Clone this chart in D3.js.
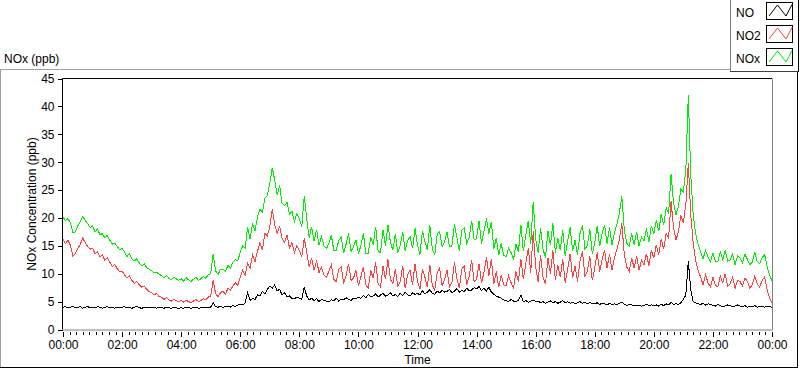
<!DOCTYPE html>
<html lang="en">
<head>
  <meta charset="UTF-8">
  <title>NOx (ppb)</title>
  <script src="https://d3js.org/d3.v7.min.js"></script>
  <style>
    body { margin: 0; background: #ffffff; }
    svg { display: block; font-family: "Segoe UI", "Liberation Sans", sans-serif; font-size: 12px; }
  </style>
</head>
<body>
  <script>
    // 5-minute readings, 00:00 .. 24:00 (one row per hour)
    const seriesNames = ["NO", "NO2", "NOx"];
    const seriesColors = ["#000000", "#ff4040", "#00ee00"];

    const no = [
      4.0,4.1,3.9,4.0,4.2,3.9,4.0,4.1,3.8,4.0,4.1,3.9,
      4.0,3.9,4.1,4.0,3.8,4.0,4.1,3.9,4.0,3.8,4.0,3.9,
      4.0,4.1,3.9,4.0,3.8,4.0,4.1,3.9,3.8,4.0,3.9,4.0,
      3.9,4.0,3.8,4.0,3.9,3.8,4.0,3.9,3.8,4.0,3.9,3.8,
      3.9,3.8,4.0,3.9,3.8,3.9,4.0,3.8,3.9,4.0,3.9,4.0,
      4.0,4.8,4.1,4.0,4.2,3.9,4.2,4.1,4.0,4.3,4.1,4.4,
      4.5,4.4,4.8,6.6,5.2,5.6,5.4,6.2,6.0,6.8,6.4,7.2,
      7.8,7.4,8.0,6.9,7.2,6.2,6.6,5.8,6.0,5.6,5.5,5.8,
      5.6,5.4,7.6,6.0,5.3,5.6,5.2,5.5,5.0,5.4,5.2,5.1,
      5.0,5.3,5.2,5.6,5.1,5.4,5.3,5.7,5.4,5.2,5.6,5.5,
      5.8,5.6,6.1,5.7,6.3,5.9,6.0,6.4,5.8,6.2,6.5,6.0,
      6.2,6.6,6.0,6.3,5.9,6.5,6.1,6.7,6.2,6.0,6.6,6.3,
      6.5,6.2,6.9,6.4,6.7,7.1,6.5,6.3,6.9,6.6,7.0,6.7,
      6.8,7.2,6.6,6.9,7.3,6.7,7.0,6.8,7.4,6.9,7.1,7.5,
      7.3,7.7,7.0,7.4,6.9,7.6,6.7,6.3,6.0,5.8,5.6,5.3,
      5.2,5.0,5.4,5.1,4.9,5.3,6.2,5.0,5.2,4.9,5.1,5.3,
      5.0,5.1,4.8,5.0,4.7,4.9,5.1,4.8,5.0,4.7,4.9,5.2,
      4.8,5.0,4.7,4.9,4.6,4.8,5.0,4.7,4.9,4.6,4.8,4.7,
      4.6,4.8,4.5,4.7,4.6,4.4,4.7,4.5,4.6,4.4,4.7,4.9,
      4.5,4.3,4.5,4.4,4.2,4.3,4.4,4.2,4.3,4.5,4.3,4.4,
      4.3,4.4,4.2,4.5,4.3,4.6,4.4,4.9,4.5,4.6,4.5,4.8,
      5.4,6.2,12.2,7.2,5.0,4.8,4.6,4.5,4.7,4.4,4.6,4.5,
      4.3,4.2,4.5,4.3,4.1,4.2,4.4,4.3,4.1,4.2,4.4,4.2,
      4.1,4.3,4.0,4.2,4.1,4.3,4.0,4.2,4.1,4.0,4.2,4.1,
      4.0
    ];

    const no2 = [
      16.2,15.4,16.0,15.1,13.2,13.6,14.6,15.2,16.4,15.6,14.9,14.4,
      14.6,13.6,13.9,13.0,13.4,12.4,12.8,12.1,11.3,11.7,10.9,10.4,
      10.5,9.8,9.2,9.6,8.8,8.3,8.6,8.0,7.6,7.8,7.2,6.8,
      6.6,6.2,6.5,5.9,5.8,5.4,5.7,5.3,5.1,5.4,5.2,5.0,
      5.2,4.9,5.3,5.0,4.8,5.1,5.4,5.0,5.2,5.5,5.3,5.8,
      6.0,8.8,6.4,5.9,6.6,6.9,6.3,7.4,7.0,7.8,8.4,7.9,
      9.4,10.6,9.8,11.8,11.0,13.4,12.2,14.0,15.6,14.2,17.2,16.8,
      18.4,21.6,18.8,17.2,18.6,16.4,15.6,17.0,14.6,15.6,13.8,15.0,
      14.2,13.0,16.4,13.8,11.2,12.8,10.6,12.4,10.2,11.2,9.8,9.4,
      10.4,11.6,9.0,8.6,10.8,11.2,8.4,9.6,11.8,8.8,9.2,10.6,
      7.8,9.4,11.2,8.0,7.4,10.6,9.2,12.0,8.2,7.6,11.4,9.0,
      12.6,9.0,8.2,10.8,7.8,8.6,11.4,7.4,9.8,10.6,8.0,11.8,
      8.6,7.2,10.8,9.4,7.6,11.6,8.0,7.0,10.2,11.0,7.8,9.0,
      10.6,7.6,8.4,12.0,9.2,7.4,10.8,11.4,8.0,9.6,12.4,8.6,
      9.0,11.8,8.4,10.2,13.0,9.6,12.6,8.2,10.4,7.6,9.8,8.0,
      7.8,9.6,8.4,7.4,10.4,8.6,12.6,9.0,11.8,14.6,10.2,17.6,
      11.2,8.6,13.4,9.4,8.2,12.8,10.0,14.2,8.8,11.6,9.4,12.6,
      8.4,10.8,13.6,9.2,11.4,8.6,12.2,14.0,9.6,10.4,13.2,8.8,
      11.0,13.8,10.4,12.6,14.2,11.0,13.6,10.6,12.8,14.4,16.2,19.0,
      13.4,11.2,10.4,12.8,11.0,13.2,10.6,12.4,11.6,13.6,11.4,14.2,
      12.8,15.2,13.4,16.2,14.4,17.2,16.4,23.0,18.2,16.0,17.6,20.4,
      19.2,22.4,29.8,20.6,15.4,12.4,10.6,9.4,8.0,9.8,8.4,7.6,
      9.4,8.0,7.6,9.6,8.4,10.0,7.8,8.2,9.4,7.4,8.8,8.6,
      7.8,9.2,8.6,7.4,8.0,9.6,8.2,7.6,8.8,9.4,7.2,5.6,
      4.8
    ];

    const nox = [
      20.2,19.5,19.9,19.1,17.4,17.5,18.6,19.3,20.2,19.6,19.0,18.3,
      18.6,17.5,18.0,17.0,17.2,16.4,16.9,16.0,15.3,15.5,14.9,14.3,
      14.5,13.9,13.1,13.6,12.6,12.3,12.7,11.9,11.4,11.8,11.1,10.8,
      10.5,10.2,10.3,9.9,9.7,9.2,9.7,9.2,8.9,9.4,9.1,8.8,
      9.1,8.7,9.3,8.9,8.6,9.0,9.4,8.8,9.1,9.5,9.2,9.8,
      10.0,13.6,10.5,9.9,10.8,10.8,10.5,11.5,11.0,12.1,12.5,12.3,
      13.9,15.0,14.6,18.4,16.2,19.0,17.6,20.2,21.6,21.0,23.6,24.0,
      26.2,29.0,26.8,24.1,25.8,22.6,22.2,22.8,20.6,21.2,19.3,20.8,
      19.8,18.4,24.0,19.8,16.5,18.4,15.8,17.9,15.2,16.6,15.0,14.5,
      15.4,16.9,14.2,14.2,15.9,16.6,13.7,15.3,17.2,14.0,14.8,16.1,
      13.6,15.0,17.3,13.7,13.7,16.5,15.2,18.4,14.0,13.8,17.9,15.0,
      18.8,15.6,14.2,17.1,13.7,15.1,17.5,14.1,16.0,16.6,14.6,18.1,
      15.1,13.4,17.7,15.8,14.3,18.7,14.5,13.3,17.1,17.6,14.8,15.7,
      17.4,14.8,15.0,18.9,16.5,14.1,17.8,18.2,15.4,16.5,19.5,16.1,
      16.3,19.5,15.4,17.6,19.9,17.2,19.3,14.5,16.4,13.4,15.4,13.3,
      13.0,14.6,13.8,12.5,15.3,13.9,18.8,14.0,17.0,19.5,15.3,22.9,
      16.2,13.7,18.2,14.4,12.9,17.7,15.1,19.0,13.8,16.3,14.3,17.8,
      13.2,15.8,18.3,14.1,16.0,13.4,17.2,18.7,14.5,15.0,18.0,13.5,
      15.6,18.6,14.9,17.3,18.8,15.4,18.3,15.1,17.4,18.8,20.9,23.9,
      17.9,15.5,14.9,17.2,15.2,17.5,15.0,16.6,15.9,18.1,15.7,18.6,
      17.1,19.6,17.6,20.7,18.7,21.8,20.8,27.9,22.7,20.6,22.1,25.2,
      24.6,28.6,42.0,27.8,20.4,17.2,15.2,13.9,12.7,14.2,13.0,12.1,
      13.7,12.2,12.1,13.9,12.5,14.2,12.2,12.5,13.5,11.6,13.2,12.8,
      11.9,13.5,12.6,11.6,12.1,13.9,12.2,11.8,12.9,13.4,11.4,9.7,
      8.8
    ];

    const yTicks = [0, 5, 10, 15, 20, 25, 30, 35, 40, 45];
    const xTickHours = [0, 2, 4, 6, 8, 10, 12, 14, 16, 18, 20, 22, 24];

    const width = 800, height = 369;
    const plot = { left: 63, right: 772, top: 78.5, bottom: 329.5 };

    const svg = d3.select("body").append("svg")
        .attr("width", width)
        .attr("height", height);

    // outer panel (3D look: light top/left, dark bottom/right)
    const panel = svg.append("g");
    panel.append("line").attr("x1", 0).attr("x2", 798).attr("y1", 69.5).attr("y2", 69.5).attr("stroke", "#a0a0a0");
    panel.append("line").attr("x1", 0.5).attr("x2", 0.5).attr("y1", 69).attr("y2", 368).attr("stroke", "#a0a0a0");
    panel.append("line").attr("x1", 0).attr("x2", 798).attr("y1", 367.5).attr("y2", 367.5).attr("stroke", "#000");
    panel.append("line").attr("x1", 797.5).attr("x2", 797.5).attr("y1", 69).attr("y2", 368).attr("stroke", "#000");

    svg.append("text")
        .attr("x", 4).attr("y", 63)
        .text("NOx (ppb)");

    const x = d3.scaleLinear().domain([0, 24 * 60]).range([plot.left, plot.right]);
    const y = d3.scaleLinear().domain([0, 45]).range([plot.bottom, plot.top]);

    // y axis
    const yAxis = svg.append("g")
        .attr("transform", `translate(${plot.left - 0.5},0)`)
        .call(d3.axisLeft(y).tickValues(yTicks).tickSize(5).tickPadding(3));
    yAxis.select(".domain").remove();
    yAxis.selectAll("text").attr("font-size", 12).attr("font-family", null).attr("fill", "#000");

    // x axis, major + minor ticks
    const fmt = m => d3.format("02")(Math.floor(m / 60) % 24) + ":" + d3.format("02")(m % 60);
    const xAxis = svg.append("g")
        .attr("transform", `translate(0,${plot.bottom + 2})`)
        .call(d3.axisBottom(x).tickValues(xTickHours.map(h => h * 60)).tickSize(5).tickPadding(4).tickFormat(fmt));
    xAxis.select(".domain").remove();
    xAxis.selectAll("text").attr("font-size", 12).attr("font-family", null).attr("fill", "#000");

    const minor = d3.range(0, 24 * 60, 120 / 9).filter(m => Math.abs(m / 120 - Math.round(m / 120)) > 1e-6);
    const xMinor = svg.append("g")
        .attr("transform", `translate(0,${plot.bottom + 2})`)
        .call(d3.axisBottom(x).tickValues(minor).tickSize(3).tickFormat(""));
    xMinor.select(".domain").remove();
    svg.selectAll(".tick line").attr("shape-rendering", "crispEdges");

    // axis titles
    svg.append("text")
        .attr("x", (plot.left + plot.right) / 2).attr("y", 364)
        .attr("text-anchor", "middle")
        .text("Time");
    svg.append("text")
        .attr("transform", "translate(36,204) rotate(-90)")
        .attr("text-anchor", "middle")
        .text("NOx Concentration (ppb)");

    // plot frame
    svg.append("rect")
        .attr("x", plot.left).attr("y", plot.top)
        .attr("width", plot.right - plot.left).attr("height", plot.bottom - plot.top)
        .attr("fill", "#fff");

    const line = d3.line()
        .x((d, i) => x(i * 5))
        .y(d => y(d));

    // LabVIEW draws its traces without anti-aliasing
    const data = [no, no2, nox];
    [2, 1, 0].forEach(k => {
      svg.append("path")
          .datum(data[k])
          .attr("d", line)
          .attr("fill", "none")
          .attr("stroke", seriesColors[k])
          .attr("stroke-width", 1)
          .attr("shape-rendering", "crispEdges");
    });

    svg.append("line").attr("x1", plot.left - 0.5).attr("x2", plot.right).attr("y1", plot.top).attr("y2", plot.top).attr("stroke", "#000");
    svg.append("line").attr("x1", plot.left - 0.5).attr("x2", plot.left - 0.5).attr("y1", plot.top).attr("y2", plot.bottom).attr("stroke", "#000");
    svg.append("line").attr("x1", plot.right + 0.5).attr("x2", plot.right + 0.5).attr("y1", plot.top).attr("y2", plot.bottom + 0.5).attr("stroke", "#808080");
    svg.append("line").attr("x1", plot.left).attr("x2", plot.right + 0.5).attr("y1", plot.bottom + 0.5).attr("y2", plot.bottom + 0.5).attr("stroke", "#808080");

    // legend
    const legend = svg.append("g");
    legend.append("rect").attr("x", 730).attr("y", 0).attr("width", 69).attr("height", 72).attr("fill", "#fff");
    legend.append("line").attr("x1", 730.5).attr("x2", 730.5).attr("y1", 0).attr("y2", 72).attr("stroke", "#808080");
    legend.append("line").attr("x1", 730).attr("x2", 799).attr("y1", 71.5).attr("y2", 71.5).attr("stroke", "#404040");
    legend.append("line").attr("x1", 798.5).attr("x2", 798.5).attr("y1", 0).attr("y2", 72).attr("stroke", "#000");

    const zig = d3.line();
    seriesNames.forEach((name, i) => {
      const g = legend.append("g").attr("transform", `translate(0,${i * 23})`);
      g.append("text").attr("x", 736).attr("y", 17).text(name);
      g.append("rect")
          .attr("x", 766.5).attr("y", 2.5).attr("width", 26).attr("height", 17)
          .attr("fill", "#fff").attr("stroke", "#000");
      g.append("path")
          .attr("d", zig([[769, 16], [777.5, 5], [786, 16], [792, 4.5]]))
          .attr("fill", "none")
          .attr("stroke", seriesColors[i]);
    });
  </script>
</body>
</html>
